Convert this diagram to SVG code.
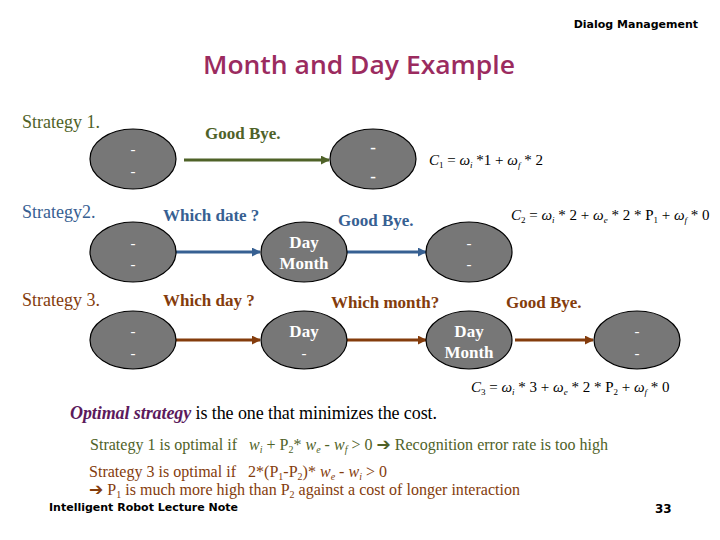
<svg xmlns="http://www.w3.org/2000/svg" width="720" height="540" viewBox="0 0 720 540">
<defs>
<style>
.node{fill:#777777;stroke:#000;stroke-width:1.2}
.nt{font-family:"Liberation Serif",serif;font-weight:bold;font-size:17px;fill:#fff;text-anchor:middle}
.ds{font-family:"Liberation Serif",serif;font-size:15px;fill:#fff;text-anchor:middle}
.lbl{font-family:"Liberation Serif",serif;font-weight:bold;font-size:17px}
.st{font-family:"Liberation Serif",serif;font-size:18px}
.g{fill:#4f6228}.b{fill:#376092}.r{fill:#843c0c}
.fm{font-family:"Liberation Serif",serif;font-size:15px;fill:#000}
.fi{font-style:italic}
.sm{font-family:"Liberation Serif",serif;font-size:16px;white-space:pre}
.arr{font-family:"DejaVu Sans",sans-serif;font-weight:bold;font-size:17px}
.sans{font-family:"DejaVu Sans",sans-serif;font-weight:bold;fill:#000}
</style>
<marker id="ag" viewBox="0 0 10 10" refX="9" refY="5" markerWidth="3" markerHeight="3" orient="auto"><path d="M0,0L10,5L0,10z" fill="#4f6228"/></marker>
<marker id="ab" viewBox="0 0 10 10" refX="9" refY="5" markerWidth="3" markerHeight="3" orient="auto"><path d="M0,0L10,5L0,10z" fill="#376092"/></marker>
<marker id="ar" viewBox="0 0 10 10" refX="9" refY="5" markerWidth="3" markerHeight="3" orient="auto"><path d="M0,0L10,5L0,10z" fill="#843c0c"/></marker>
</defs>
<rect width="720" height="540" fill="#fff"/>

<text x="698" y="28" class="sans" font-size="11" text-anchor="end">Dialog Management</text>
<text x="203" y="74" font-family="Open Sans,DejaVu Sans,sans-serif" font-weight="600" font-size="26" fill="#9b2b5f" textLength="312" lengthAdjust="spacingAndGlyphs">Month and Day Example</text>

<g id="labels">
<text x="22" y="128" class="st g">Strategy 1.</text>
<text x="205" y="139" class="lbl g">Good Bye.</text>
<text x="22" y="218" class="st b">Strategy2.</text>
<text x="163" y="221" class="lbl b">Which date ?</text>
<text x="338" y="226" class="lbl b">Good Bye.</text>
<text x="22" y="306" class="st r">Strategy 3.</text>
<text x="163" y="306" class="lbl r">Which day ?</text>
<text x="331" y="308" class="lbl r">Which month?</text>
<text x="506" y="308" class="lbl r">Good Bye.</text>
</g>

<g id="connectors" fill="none" stroke-width="3">
<line x1="184" y1="160" x2="329" y2="160" stroke="#4f6228" marker-end="url(#ag)"/>
<line x1="176" y1="252" x2="260" y2="252" stroke="#376092" marker-end="url(#ab)"/>
<line x1="347" y1="252" x2="426" y2="252" stroke="#376092" marker-end="url(#ab)"/>
<line x1="176" y1="340" x2="260" y2="340" stroke="#843c0c" marker-end="url(#ar)"/>
<line x1="347" y1="340" x2="426" y2="340" stroke="#843c0c" marker-end="url(#ar)"/>
<line x1="515" y1="340" x2="593" y2="340" stroke="#843c0c" marker-end="url(#ar)"/>
</g>

<g id="s1a"><ellipse cx="133" cy="159" rx="43" ry="30" class="node"/><text x="133" y="154" class="ds">-</text><text x="133" y="176" class="ds">-</text></g>
<g id="s1b"><ellipse cx="373" cy="159" rx="43" ry="30" class="node"/><text x="373" y="153" class="nt">-</text><text x="373" y="182" class="nt">-</text></g>

<g id="s2a"><ellipse cx="133" cy="252" rx="43" ry="30" class="node"/><text x="133" y="248" class="ds">-</text><text x="133" y="269" class="ds">-</text></g>
<g id="s2b"><ellipse cx="304" cy="252" rx="43" ry="30" class="node"/><text x="304" y="248" class="nt">Day</text><text x="304" y="269" class="nt">Month</text></g>
<g id="s2c"><ellipse cx="469" cy="252" rx="43" ry="30" class="node"/><text x="469" y="248" class="ds">-</text><text x="469" y="269" class="ds">-</text></g>

<g id="s3a"><ellipse cx="133" cy="340" rx="43" ry="29" class="node"/><text x="133" y="336" class="ds">-</text><text x="133" y="358" class="ds">-</text></g>
<g id="s3b"><ellipse cx="304" cy="340" rx="43" ry="29" class="node"/><text x="304" y="337" class="nt">Day</text><text x="304" y="358" class="ds">-</text></g>
<g id="s3c"><ellipse cx="469" cy="340" rx="43" ry="29" class="node"/><text x="469" y="337" class="nt">Day</text><text x="469" y="358" class="nt">Month</text></g>
<g id="s3d"><ellipse cx="637" cy="340" rx="43" ry="29" class="node"/><text x="637" y="336" class="ds">-</text><text x="637" y="358" class="ds">-</text></g>

<g id="formulas">
<text x="429" y="165" class="fm" font-size="16"><tspan class="fi">C</tspan><tspan font-size="9" dy="3">1</tspan><tspan dy="-3"> = </tspan><tspan class="fi">ω</tspan><tspan class="fi" font-size="9" dy="3">i</tspan><tspan dy="-3"> *1 + </tspan><tspan class="fi">ω</tspan><tspan class="fi" font-size="9" dy="3">f</tspan><tspan dy="-3"> * 2</tspan></text>
<text x="511" y="220" class="fm" font-size="14"><tspan class="fi">C</tspan><tspan font-size="9" dy="3">2</tspan><tspan dy="-3"> = </tspan><tspan class="fi">ω</tspan><tspan class="fi" font-size="9" dy="3">i</tspan><tspan dy="-3"> * 2 + </tspan><tspan class="fi">ω</tspan><tspan class="fi" font-size="9" dy="3">e</tspan><tspan dy="-3"> * 2 * P</tspan><tspan font-size="9" dy="3">1</tspan><tspan dy="-3"> + </tspan><tspan class="fi">ω</tspan><tspan class="fi" font-size="9" dy="3">f</tspan><tspan dy="-3"> * 0</tspan></text>
<text x="471" y="392" class="fm" font-size="14"><tspan class="fi">C</tspan><tspan font-size="9" dy="3">3</tspan><tspan dy="-3"> = </tspan><tspan class="fi">ω</tspan><tspan class="fi" font-size="9" dy="3">i</tspan><tspan dy="-3"> * 3 + </tspan><tspan class="fi">ω</tspan><tspan class="fi" font-size="9" dy="3">e</tspan><tspan dy="-3"> * 2 * P</tspan><tspan font-size="9" dy="3">2</tspan><tspan dy="-3"> + </tspan><tspan class="fi">ω</tspan><tspan class="fi" font-size="9" dy="3">f</tspan><tspan dy="-3"> * 0</tspan></text>
</g>

<g id="notes">
<text x="70" y="419" font-family="Liberation Serif,serif" font-size="18" fill="#000" textLength="367"><tspan font-weight="bold" font-style="italic" fill="#5c1a5c">Optimal strategy</tspan> is the one that minimizes the cost.</text>
<text x="90" y="450" class="sm g" textLength="518">Strategy 1 is optimal if   <tspan font-style="italic">w</tspan><tspan font-style="italic" font-size="10" dy="3">i</tspan><tspan dy="-3"> + P</tspan><tspan font-size="10" dy="3">2</tspan><tspan dy="-3">* </tspan><tspan font-style="italic">w</tspan><tspan font-style="italic" font-size="10" dy="3">e</tspan><tspan dy="-3"> - </tspan><tspan font-style="italic">w</tspan><tspan font-style="italic" font-size="10" dy="3">f</tspan><tspan dy="-3"> &gt; 0 </tspan><tspan class="arr">➔</tspan><tspan> Recognition error rate is too high</tspan></text>
<text x="89" y="477" class="sm r" textLength="298">Strategy 3 is optimal if   2*(P<tspan font-size="10" dy="3">1</tspan><tspan dy="-3">-P</tspan><tspan font-size="10" dy="3">2</tspan><tspan dy="-3">)* </tspan><tspan font-style="italic">w</tspan><tspan font-style="italic" font-size="10" dy="3">e</tspan><tspan dy="-3"> - </tspan><tspan font-style="italic">w</tspan><tspan font-style="italic" font-size="10" dy="3">i</tspan><tspan dy="-3"> &gt; 0</tspan></text>
<text x="89" y="495" class="sm r" textLength="431"><tspan class="arr">➔</tspan> P<tspan font-size="10" dy="3">1</tspan><tspan dy="-3"> is much more high than P</tspan><tspan font-size="10" dy="3">2</tspan><tspan dy="-3"> against a cost of longer interaction</tspan></text>
</g>

<text x="49" y="511" class="sans" font-size="11">Intelligent Robot Lecture Note</text>
<text x="655" y="513" class="sans" font-size="12">33</text>
</svg>
